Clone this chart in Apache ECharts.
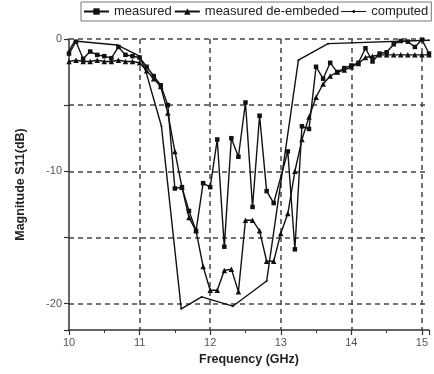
<!DOCTYPE html>
<html>
<head>
<meta charset="utf-8">
<script src="https://cdn.jsdelivr.net/npm/echarts@6/dist/echarts.min.js"></script>
<style>
  html, body { margin: 0; padding: 0; background: #fff; }
  #chart { width: 434px; height: 374px; }
</style>
</head>
<body>
<div id="chart"></div>
<script>
// Return loss of the filter, S11 in dB against frequency in GHz.
const freqMeasured = [10.0, 10.1, 10.2, 10.3, 10.4, 10.5, 10.6, 10.7, 10.8, 10.9,
  11.0, 11.1, 11.2, 11.3, 11.4, 11.5, 11.6, 11.7, 11.8, 11.9,
  12.0, 12.1, 12.2, 12.3, 12.4, 12.5, 12.6, 12.7, 12.8, 12.9,
  13.1, 13.2, 13.3, 13.4, 13.5, 13.6, 13.7, 13.8, 13.9,
  14.0, 14.1, 14.2, 14.3, 14.4, 14.5, 14.6, 14.7, 14.8, 14.9, 15.0, 15.1];
const s11Measured = [-1.1, -0.2, -1.5, -0.95, -1.2, -1.3, -1.45, -0.6, -1.2, -1.3,
  -1.4, -2.1, -2.8, -3.5, -5.0, -11.3, -11.2, -13.0, -14.5, -10.9,
  -11.2, -7.6, -15.7, -7.5, -8.9, -4.8, -12.7, -5.8, -11.5, -12.4,
  -8.5, -15.9, -6.6, -6.8, -2.1, -3.0, -1.8, -2.5, -2.2,
  -2.0, -1.8, -0.7, -1.7, -1.1, -1.0, -0.4, -0.15, -0.2, -0.6, -0.05, -1.1];

const freqDeembedded = [10.0, 10.1, 10.2, 10.3, 10.4, 10.5, 10.6, 10.7, 10.8, 10.9,
  11.0, 11.1, 11.2, 11.3, 11.4, 11.5, 11.6, 11.7, 11.8, 11.9,
  12.0, 12.1, 12.2, 12.3, 12.4, 12.5, 12.6, 12.7, 12.8, 12.9,
  13.0, 13.1, 13.2, 13.3, 13.4, 13.5, 13.6, 13.7, 13.8, 13.9,
  14.0, 14.1, 14.2, 14.3, 14.4, 14.5, 14.6, 14.7, 14.8, 14.9, 15.0, 15.1];
const s11Deembedded = [-1.7, -1.6, -1.7, -1.7, -1.6, -1.7, -1.7, -1.6, -1.7, -1.7,
  -1.8, -2.4, -3.0, -3.6, -5.6, -8.5, -11.2, -13.5, -14.5, -17.2,
  -19.0, -19.0, -17.5, -17.4, -19.1, -13.7, -13.7, -14.5, -16.8, -16.8,
  -14.7, -13.2, -10.0, -7.6, -5.9, -4.4, -3.4, -2.8, -2.5, -2.35,
  -2.1, -1.85, -1.4, -1.3, -1.2, -1.2, -1.2, -1.2, -1.2, -1.2, -1.2, -1.2];

const freqComputed = [10.0, 10.08, 10.68, 11.0, 11.08, 11.31, 11.59, 11.88, 12.32, 12.8, 13.25, 13.67, 15.1];
const s11Computed = [-0.9, -0.15, -0.45, -1.3, -2.3, -6.6, -20.4, -19.5, -20.2, -18.3, -1.6, -0.35, -0.1];

const seriesNames = ['measured', 'measured de-embeded', 'computed'];

function pairs(xs, ys) {
  return xs.map(function (x, i) { return [x, ys[i]]; });
}

const FONT = 'Liberation Sans, Arial, sans-serif';
const INK = '#111';
const GRID = '#444';
// legend key for the computed curve: a thin line with a small dot in the middle
const LINE_DOT_ICON = 'path://M0,3.4L26,3.4L26,4.6L0,4.6Z M12,2.5L14,2.5L14,5.5L12,5.5Z';

const chart = echarts.init(document.getElementById('chart'), null, { renderer: 'canvas' });
chart.setOption({
  animation: false,
  backgroundColor: '#fff',
  legend: {
    left: 81, top: 2, width: 352, orient: 'horizontal',
    padding: [3, 3, 3, 2],
    itemWidth: 25, itemHeight: 8, itemGap: 2,
    borderColor: '#777', borderWidth: 1,
    textStyle: { fontFamily: FONT, fontSize: 13, color: '#222' },
    data: [
      { name: seriesNames[0] },
      { name: seriesNames[1] },
      { name: seriesNames[2], icon: LINE_DOT_ICON }
    ]
  },
  grid: { left: 69, right: 5, top: 39, bottom: 44 },
  xAxis: {
    type: 'value', min: 10, max: 15.1, interval: 1,
    name: 'Frequency (GHz)', nameLocation: 'middle', nameGap: 21,
    nameTextStyle: { fontFamily: FONT, fontSize: 12.5, fontWeight: 'bold', color: '#222' },
    axisLine: { show: true, onZero: false, lineStyle: { color: '#333', width: 1.5 } },
    axisTick: { show: true, length: 5, lineStyle: { color: '#333', width: 1.2 } },
    minorTick: { show: true, splitNumber: 2, length: 3, lineStyle: { color: '#333' } },
    axisLabel: {
      fontFamily: FONT, fontSize: 11, color: '#555', margin: 7,
      formatter: function (v) { return Math.abs(v - Math.round(v)) < 1e-6 ? String(Math.round(v)) : ''; }
    },
    splitLine: { show: true, showMinLine: false, showMaxLine: false,
      lineStyle: { color: GRID, width: 1.5, type: [5, 4] } }
  },
  yAxis: {
    type: 'value', min: -22, max: 0, splitNumber: 5,
    name: 'Magnitude S11(dB)', nameLocation: 'middle', nameGap: 42, nameRotate: 90,
    nameTextStyle: { fontFamily: FONT, fontSize: 12.5, fontWeight: 'bold', color: '#222' },
    axisLine: { show: true, onZero: false, lineStyle: { color: '#333', width: 1.5 } },
    axisTick: { show: true, length: 5, lineStyle: { color: '#333', width: 1.2 } },
    axisLabel: {
      fontFamily: FONT, fontSize: 11, color: '#555', margin: 7,
      formatter: function (v) { return (Math.round(v) === v && v % 10 === 0) ? String(v) : ''; }
    },
    splitLine: { show: true, showMinLine: false,
      lineStyle: { color: GRID, width: 1.5, type: [5, 4] } }
  },
  series: [
    {
      name: seriesNames[0], type: 'line', data: pairs(freqMeasured, s11Measured),
      symbol: 'rect', symbolSize: 4.5, showSymbol: true,
      lineStyle: { color: INK, width: 1.4 }, itemStyle: { color: INK }, z: 3
    },
    {
      name: seriesNames[1], type: 'line', data: pairs(freqDeembedded, s11Deembedded),
      symbol: 'triangle', symbolSize: 5.5, showSymbol: true,
      lineStyle: { color: INK, width: 1.4 }, itemStyle: { color: INK }, z: 3
    },
    {
      name: seriesNames[2], type: 'line', data: pairs(freqComputed, s11Computed),
      symbol: 'circle', symbolSize: 2, showSymbol: true,
      lineStyle: { color: INK, width: 1.4 }, itemStyle: { color: INK }, z: 2
    }
  ]
});
</script>
</body>
</html>
